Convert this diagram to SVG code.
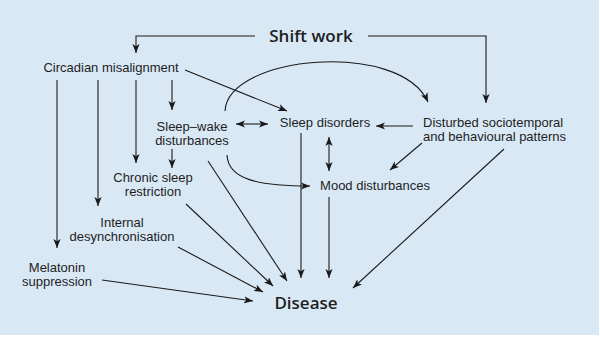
<svg xmlns="http://www.w3.org/2000/svg" width="600" height="337" viewBox="0 0 600 337">
<style>
text{font-family:"Liberation Sans",Arial,sans-serif;fill:#1e1e1e;font-size:13px}
.n{text-anchor:middle}
.b{font-family:"Open Sans","Liberation Sans",sans-serif;font-size:17px;font-weight:600}
.c path{fill:none;stroke:#1a1a1a;stroke-width:1.1}
.a{marker-end:url(#ah)}
.d{marker-start:url(#ah);marker-end:url(#ah)}
</style>
<defs>
<marker id="ah" viewBox="0 0 10 8" refX="10" refY="4" markerWidth="9" markerHeight="7.5" markerUnits="userSpaceOnUse" orient="auto-start-reverse">
<path d="M0,0 L10,4 L0,8 L2.5,4 z" fill="#1a1a1a"/>
</marker>
</defs>
<rect x="0" y="0" width="600" height="337" fill="#ffffff"/>
<rect x="0" y="0" width="599" height="335" fill="#d9e8f5"/>
<g class="c" id="connectors">
<path class="a" d="M255,36 H136 V53"/>
<path class="a" d="M368,36 H486 V103"/>
<path class="a" d="M185,70 L287,111"/>
<path class="a" d="M57,80 V248"/>
<path class="a" d="M98,80 V206"/>
<path class="a" d="M136,80 V163"/>
<path class="a" d="M172,80 V110"/>
<path class="d" d="M236,124 H268"/>
<path class="a" d="M225,111 C228,55 400,40 428,102"/>
<path class="a" d="M413,126 H376"/>
<path class="a" d="M422,143 L390,170"/>
<path class="a" d="M504,149 L353,288"/>
<path class="d" d="M329,137 V171"/>
<path class="a" d="M227,155 C228,180 260,186 310,186"/>
<path class="a" d="M301,133 V278"/>
<path class="a" d="M329,197 V278"/>
<path class="a" d="M208,161 L287,281"/>
<path class="a" d="M172,149 V168"/>
<path class="a" d="M186,204 L273,286"/>
<path class="a" d="M178,247 L263,292"/>
<path class="a" d="M102,280 L253,301"/>
</g>
<g id="shift-work"><text class="n b" x="311" y="42">Shift work</text></g>
<g id="circadian"><text class="n" x="111" y="72">Circadian misalignment</text></g>
<g id="sleep-wake"><text class="n" x="192" y="131">Sleep–wake</text><text class="n" x="192" y="145">disturbances</text></g>
<g id="sleep-disorders"><text class="n" x="325" y="127">Sleep disorders</text></g>
<g id="disturbed"><text x="423" y="127">Disturbed sociotemporal</text><text x="423" y="141">and behavioural patterns</text></g>
<g id="mood"><text class="n" x="375" y="190">Mood disturbances</text></g>
<g id="chronic"><text class="n" x="153" y="182">Chronic sleep</text><text class="n" x="153" y="196">restriction</text></g>
<g id="internal"><text class="n" x="122" y="227">Internal</text><text class="n" x="122" y="241">desynchronisation</text></g>
<g id="melatonin"><text class="n" x="57" y="272">Melatonin</text><text class="n" x="57" y="286">suppression</text></g>
<g id="disease"><text class="n b" x="306" y="309">Disease</text></g>
</svg>
